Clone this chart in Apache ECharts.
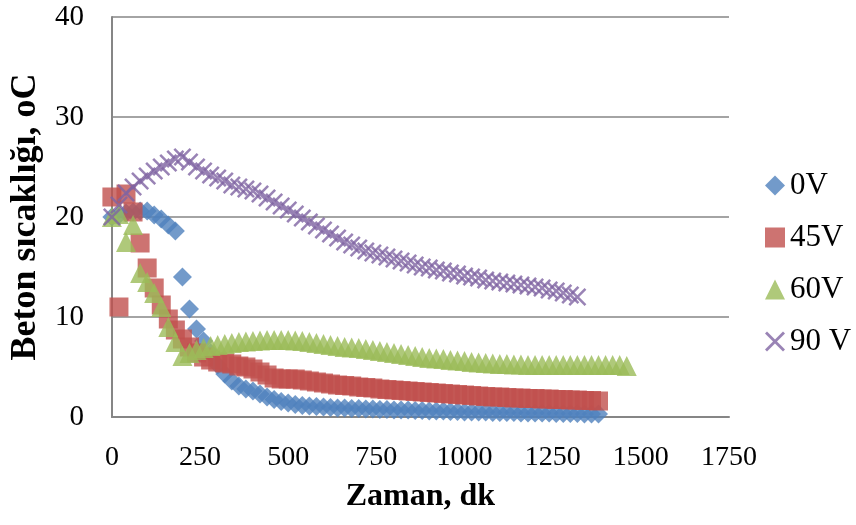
<!DOCTYPE html>
<html>
<head>
<meta charset="utf-8">
<script src="https://cdn.jsdelivr.net/npm/echarts@6/dist/echarts.min.js"></script>
<style>
  html, body { margin: 0; padding: 0; background: #ffffff; }
  #chart { width: 856px; height: 525px; }
</style>
</head>
<body>
<div id="chart"></div>
<script>
// Sampling times (minutes), one reading every 20 minutes
const minutes = [
  0, 20, 40, 60, 80, 100, 120, 140, 160, 180,
  200, 220, 240, 260, 280, 300, 320, 340, 360, 380,
  400, 420, 440, 460, 480, 500, 520, 540, 560, 580,
  600, 620, 640, 660, 680, 700, 720, 740, 760, 780,
  800, 820, 840, 860, 880, 900, 920, 940, 960, 980,
  1000, 1020, 1040, 1060, 1080, 1100, 1120, 1140, 1160, 1180,
  1200, 1220, 1240, 1260, 1280, 1300, 1320, 1340, 1360, 1380,
  1400, 1420, 1440, 1460
];

// Concrete temperature (°C) per applied voltage
const temp0V = [
  20.0, 20.2, 20.4, 20.5, 20.6, 20.6, 20.2, 19.8, 19.2, 18.6,
  14.0, 10.8, 8.8, 7.6, 6.4, 5.2, 4.3, 3.6, 3.1, 2.8,
  2.6, 2.3, 2.0, 1.75, 1.55, 1.4, 1.25, 1.15, 1.1, 1.05,
  1.0, 0.95, 0.9, 0.9, 0.85, 0.85, 0.8, 0.8, 0.75, 0.75,
  0.7, 0.7, 0.7, 0.65, 0.65, 0.6, 0.6, 0.6, 0.55, 0.55,
  0.5, 0.5, 0.5, 0.5, 0.45, 0.45, 0.45, 0.45, 0.4, 0.4,
  0.4, 0.4, 0.4, 0.35, 0.35, 0.35, 0.35, 0.3, 0.3, 0.3
];

const temp45V = [
  22.0, 11.0, 22.3, 20.5, 17.4, 14.9, 12.9, 11.2, 9.8, 8.7,
  7.8, 7.0, 6.4, 6.0, 5.7, 5.5, 5.4, 5.3, 5.1, 5.0,
  4.8, 4.5, 4.2, 3.9, 3.8, 3.8, 3.8, 3.7, 3.6, 3.5,
  3.4, 3.3, 3.2, 3.15, 3.1, 3.0, 2.95, 2.9, 2.8, 2.75,
  2.7, 2.65, 2.6, 2.55, 2.5, 2.45, 2.4, 2.35, 2.3, 2.25,
  2.2, 2.15, 2.1, 2.05, 2.0, 2.0, 1.95, 1.9, 1.9, 1.85,
  1.85, 1.8, 1.8, 1.75, 1.75, 1.7, 1.7, 1.65, 1.65, 1.6
];

const temp60V = [
  20.0, 20.3, 17.5, 19.2, 14.4, 13.5, 12.4, 11.0, 9.0, 7.5,
  6.1, 6.4, 6.7, 6.9, 7.1, 7.2, 7.3, 7.4, 7.5, 7.55,
  7.6, 7.65, 7.7, 7.7, 7.7, 7.7, 7.65, 7.6, 7.5, 7.4,
  7.3, 7.2, 7.1, 7.0, 6.95, 6.9, 6.8, 6.7, 6.6, 6.5,
  6.4, 6.3, 6.2, 6.1, 6.0, 5.9, 5.85, 5.8, 5.7, 5.65,
  5.6, 5.5, 5.45, 5.4, 5.35, 5.3, 5.3, 5.25, 5.25, 5.2,
  5.2, 5.2, 5.2, 5.2, 5.2, 5.2, 5.2, 5.2, 5.2, 5.2,
  5.2, 5.2, 5.2, 5.1
];

const temp90V = [
  20.0, 21.2, 22.4, 23.0, 23.6, 24.1, 24.6, 25.0, 25.4, 25.8,
  26.0, 25.5, 25.0, 24.6, 24.2, 23.9, 23.6, 23.2, 23.0, 22.8,
  22.6, 22.3, 21.9, 21.5, 21.1, 20.7, 20.3, 19.9, 19.5, 19.1,
  18.7, 18.3, 17.9, 17.5, 17.2, 16.9, 16.6, 16.4, 16.2, 16.0,
  15.8, 15.6, 15.4, 15.2, 15.0, 14.9, 14.7, 14.6, 14.4, 14.3,
  14.1, 14.0, 13.9, 13.7, 13.6, 13.5, 13.4, 13.3, 13.2, 13.1,
  13.0, 12.9, 12.7, 12.6, 12.4, 12.2, 12.0
];

const seriesNames = ['0V', '45V', '60V', '90 V'];
const xTicks = { min: 0, max: 1750, step: 250 };
const yTicks = { min: 0, max: 40, step: 10 };

const pairs = vals => vals.map((v, i) => [minutes[i], v]);

const FONT = 'Liberation Serif, Times New Roman, serif';
const GRID_GREY = '#868686';
const crossSymbol = 'path://M1,0L5,4L9,0L10,1L6,5L10,9L9,10L5,6L1,10L0,9L4,5L0,1Z';

const chart = echarts.init(document.getElementById('chart'), null, { renderer: 'canvas' });

chart.setOption({
  animation: false,
  backgroundColor: '#ffffff',
  textStyle: { fontFamily: FONT },
  grid: { left: 110, right: 127, top: 17, bottom: 108, containLabel: false },
  legend: {
    orient: 'vertical',
    left: 760,
    top: 165,
    itemWidth: 20,
    itemHeight: 20,
    itemGap: 21,
    textStyle: { fontFamily: FONT, fontSize: 31, color: '#000', lineHeight: 31 },
    data: [
      { name: seriesNames[0], icon: 'diamond' },
      { name: seriesNames[1], icon: 'rect' },
      { name: seriesNames[2], icon: 'triangle' },
      { name: seriesNames[3], icon: crossSymbol }
    ]
  },
  xAxis: {
    type: 'value',
    min: xTicks.min,
    max: xTicks.max,
    interval: xTicks.step,
    name: 'Zaman, dk',
    nameLocation: 'middle',
    nameGap: 64,
    nameTextStyle: { fontFamily: FONT, fontSize: 32, fontWeight: 'bold', color: '#000' },
    axisLine: { show: true, lineStyle: { color: GRID_GREY, width: 2 } },
    axisTick: { show: false },
    splitLine: { show: false },
    axisLabel: {
      fontFamily: FONT, fontSize: 28, color: '#000', margin: 27,
      formatter: v => String(v)
    }
  },
  yAxis: {
    type: 'value',
    min: yTicks.min,
    max: yTicks.max,
    interval: yTicks.step,
    name: 'Beton sıcaklığı, oC',
    nameLocation: 'middle',
    nameGap: 63,
    nameTextStyle: { fontFamily: FONT, fontSize: 36, fontWeight: 'bold', color: '#000' },
    axisLine: { show: true, lineStyle: { color: GRID_GREY, width: 2 } },
    axisTick: { show: false },
    splitLine: { show: true, lineStyle: { color: GRID_GREY, width: 1.5 } },
    axisLabel: {
      fontFamily: FONT, fontSize: 29, color: '#000', margin: 28,
      formatter: v => String(v)
    }
  },
  series: [
    {
      name: seriesNames[0], type: 'scatter', data: pairs(temp0V),
      symbol: 'diamond', symbolSize: 19, clip: false,
      itemStyle: { color: '#4F81BD' }, z: 2
    },
    {
      name: seriesNames[1], type: 'scatter', data: pairs(temp45V),
      symbol: 'rect', symbolSize: 19, clip: false,
      itemStyle: { color: '#C0504D' }, z: 3
    },
    {
      name: seriesNames[2], type: 'scatter', data: pairs(temp60V),
      symbol: 'triangle', symbolSize: 20, clip: false,
      itemStyle: { color: '#9BBB59' }, z: 4
    },
    {
      name: seriesNames[3], type: 'scatter', data: pairs(temp90V),
      symbol: crossSymbol, symbolSize: 18, clip: false,
      itemStyle: { color: '#8064A2' }, z: 5
    }
  ]
});
</script>
</body>
</html>
